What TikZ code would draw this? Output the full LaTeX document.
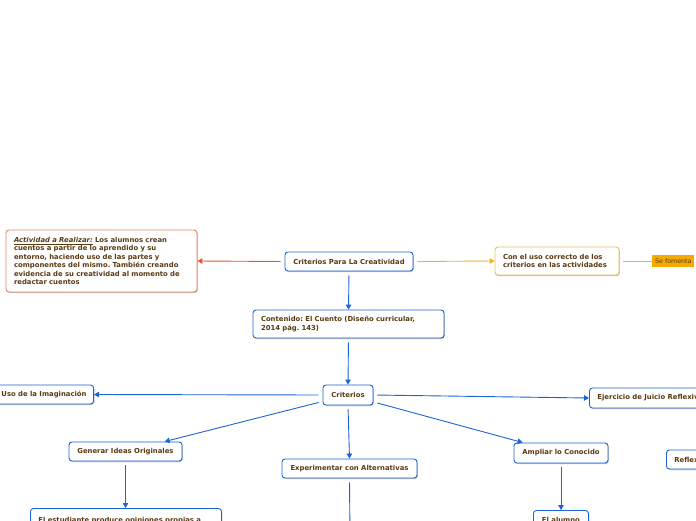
\documentclass[tikz,border=0pt]{standalone}
\usepackage{fontspec}
\setmainfont{DejaVu Sans}
\usetikzlibrary{arrows.meta,shadows}
\definecolor{txt}{HTML}{5A3A12}
\definecolor{bl}{HTML}{1C63D6}
\definecolor{rd}{HTML}{E8552E}
\definecolor{rdb}{HTML}{E88262}
\definecolor{yl}{HTML}{F2B418}
\definecolor{ylb}{HTML}{E8C468}
\definecolor{sefill}{HTML}{F5AA00}
\tikzset{
  box/.style={draw=bl, line width=0.9pt, rounded corners=3pt, fill=white, text=txt,
    font=\fontsize{6.85}{8.5}\selectfont\bfseries\frenchspacing, inner sep=0pt, align=center,
    drop shadow={shadow xshift=0.8pt, shadow yshift=-1pt, opacity=0.25, fill=black}},
  lbox/.style={box, align=left, inner xsep=8pt, inner ysep=0pt},
  conn/.style={draw=bl, line width=0.9pt, shorten <=4pt, -{Triangle[length=5pt,width=5.5pt]}},
  rconn/.style={conn, draw=rd, -{Triangle[length=5pt,width=5.5pt]}},
  yconn/.style={conn, draw=yl, -{Triangle[length=5pt,width=5.5pt]}},
}
\begin{document}
\begin{tikzpicture}[x=1pt,y=-1pt]
\useasboundingbox (0,0) rectangle (696,520);
\clip (0,0) rectangle (696,520);
\node[box, minimum width=128pt, minimum height=19pt] (top) at (349,261.5) {Criterios Para La Creatividad};
\node[lbox, draw=rdb, text width=175pt, minimum height=62pt] (act) at (101.5,261)
 {\underline{\textit{Actividad a Realizar:}}\vphantom{g} Los alumnos crean\\cuentos a partir de lo aprendido y su\\entorno, haciendo uso de las partes y\\componentes del mismo. También creando\\evidencia de su creatividad al momento de\\redactar cuentos};
\node[lbox, draw=ylb, text width=108pt, minimum height=28pt] (con) at (557,261)
 {Con el uso correcto de los\\criterios en las actividades};
\node[anchor=west, fill=sefill, text=txt, font=\fontsize{6.3}{7}\selectfont, inner xsep=3pt, minimum height=12pt, inner ysep=0pt] (se) at (652,261) {Se fomenta};
\node[lbox, text width=175pt, minimum height=28pt] (cont) at (348.5,324)
 {Contenido: El Cuento (Diseño curricular,\\2014 pág. 143)};
\node[box, minimum width=50pt, minimum height=20pt] (crit) at (348,395) {Criterios};
\node[box, anchor=east, inner xsep=7pt, minimum height=19pt] (uso) at (94,394.5) {Uso de la Imaginación};
\node[box, anchor=west, inner xsep=8pt, minimum height=20pt] (ejer) at (589,398) {Ejercicio de Juicio Reflexivo};
\node[box, minimum width=113pt, minimum height=19pt] (gen) at (125.5,451.5) {Generar Ideas Originales};
\node[box, minimum width=135pt, minimum height=19pt] (exp) at (349.5,468.5) {Experimentar con Alternativas};
\node[box, minimum width=94pt, minimum height=20pt] (amp) at (561,453) {Ampliar lo Conocido};
\node[box, anchor=west, inner xsep=8pt, minimum height=19pt] (refl) at (666,459.5) {Reflexión};
\node[lbox, anchor=north west, text width=175pt, inner ysep=8.5pt] (est) at (30,508) {El estudiante produce opiniones propias a};
\node[lbox, anchor=north west, minimum width=55pt, inner xsep=7pt, inner ysep=7pt] (alu) at (533,510) {El alumno};
\coordinate (expc) at (350,540);
\draw[rconn] (top.west) -- (act.east);
\draw[yconn] (top.east) -- (con.west);
\draw[draw=yl, line width=0.9pt, shorten <=4pt] (con.east) -- (se.west);
\draw[conn] (top.south) -- (cont.north);
\draw[conn] (cont.south) -- (crit.north);
\draw[conn] (crit.west) -- (uso.east);
\draw[conn] (crit.east) -- (ejer.west);
\draw[conn] (crit) -- (gen);
\draw[conn] (crit.south) -- (exp.north);
\draw[conn] (crit) -- (amp);
\draw[conn] (gen.south) -- (est.north -| gen.south);
\draw[conn] (amp.south) -- (alu.north -| amp.south);
\draw[draw=bl, line width=0.9pt, shorten <=4pt] (exp.south) -- (expc);
\end{tikzpicture}
\end{document}
